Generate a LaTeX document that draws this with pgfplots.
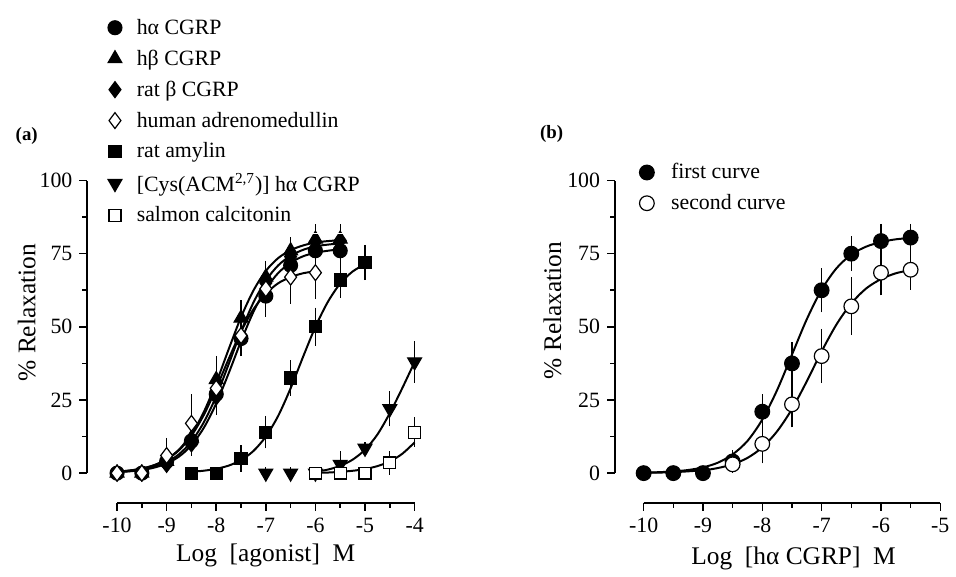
\documentclass[border=0pt]{standalone}
\usepackage{fontspec}
\setmainfont{Liberation Serif}
\usepackage{pgfplots}
\pgfplotsset{compat=1.18}

\tikzset{
  myaxis/.style={draw=black, line width=1pt},
  mycurve/.style={black, line width=1pt, smooth},
  mypts/.style={black, line width=0.6pt},
}
\newcommand{\ls}{\rule[-2.8pt]{0pt}{10.8pt}}

\begin{document}
\begin{tikzpicture}

% (a) agonists
\begin{axis}[scale only axis, width=165pt, height=162.5pt,
  xmin=-10.6, xmax=-4, ymin=-10.17, ymax=100,
  axis x line*=bottom, axis y line*=left, clip=false,
  axis line style={draw=none},
  tick align=outside, major tick length=4pt, minor tick length=2.5pt,
  tick style={black, line width=0.8pt},
  xtick={-10,-9,-8,-7,-6,-5,-4}, xticklabels={-10,-9,-8,-7,-6,-5,-4},
  minor xtick={-9.5,-8.5,-7.5,-6.5,-5.5,-4.5},
  ytick={0,25,50,75,100}, yticklabels={0,25,50,75,100},
  minor ytick={12.5,37.5,62.5,87.5},
  tick label style={font=\fontsize{11}{13}\selectfont},
  xlabel={Log\ \ [agonist]\ \ M}, ylabel={\% Relaxation},
  xlabel style={font=\fontsize{12.8}{15}\selectfont, at={(axis description cs:0.545,-0.163)}, anchor=center},
  ylabel style={font=\fontsize{12.8}{15}\selectfont, at={(axis description cs:-0.185,0.59)}, anchor=center},
  legend style={draw=white, fill=none, at={(axis description cs:0.044,1.529)}, anchor=north west,
    font=\fontsize{11}{13}\selectfont, column sep=5.5pt, row sep=2.1pt},
  legend cell align=left]
\draw[myaxis] (axis cs:-10.6,0) -- (axis cs:-10.6,100);
\draw[myaxis] (axis cs:-10,-10.17) -- (axis cs:-4,-10.17);
\addplot[draw=black, line width=1pt, forget plot] coordinates {(-10.6,0) (-10.6,100)};
\addplot[draw=black, line width=1pt, forget plot] coordinates {(-10,-10.17) (-4,-10.17)};
% fitted curves
\addplot[mycurve, forget plot] coordinates {(-10,0.50) (-9.75,0.89) (-9.5,1.57) (-9.25,2.74) (-9,4.75) (-8.75,8.07) (-8.5,13.3) (-8.25,20.9) (-8,30.9) (-7.75,42.3) (-7.5,53.3) (-7.25,62.4) (-7,69.1) (-6.75,73.5) (-6.5,76.2) (-6.25,77.8) (-6,78.8) (-5.75,79.3) (-5.5,79.6)};
\addplot[mycurve, forget plot] coordinates {(-10,0.34) (-9.75,0.61) (-9.5,1.07) (-9.25,1.89) (-9,3.29) (-8.75,5.66) (-8.5,9.53) (-8.25,15.5) (-8,23.8) (-7.75,34.1) (-7.5,45.1) (-7.25,55.1) (-7,62.9) (-6.75,68.4) (-6.5,71.9) (-6.25,74.1) (-6,75.3) (-5.75,76.0) (-5.5,76.5)};
\addplot[mycurve, forget plot] coordinates {(-10,0.39) (-9.75,0.70) (-9.5,1.23) (-9.25,2.16) (-9,3.76) (-8.75,6.47) (-8.5,10.8) (-8.25,17.4) (-8,26.3) (-7.75,37.2) (-7.5,48.4) (-7.25,58.3) (-7,65.8) (-6.75,71.0) (-6.5,74.3) (-6.25,76.3) (-6,77.5) (-5.75,78.1) (-5.5,78.5)};
\addplot[mycurve, forget plot] coordinates {(-10,0.49) (-9.75,0.87) (-9.5,1.53) (-9.25,2.68) (-9,4.63) (-8.75,7.83) (-8.5,12.8) (-8.25,19.9) (-8,29.0) (-7.75,39.0) (-7.5,48.4) (-7.25,56.0) (-7,61.3) (-6.75,64.9) (-6.5,67.0) (-6.25,68.3) (-6,69.0)};
\addplot[mycurve, forget plot] coordinates {(-8.5,0.47) (-8.25,0.83) (-8,1.47) (-7.75,2.57) (-7.5,4.45) (-7.25,7.57) (-7,12.5) (-6.75,19.6) (-6.5,29.0) (-6.25,39.7) (-6,50.0) (-5.75,58.5) (-5.5,64.8) (-5.25,68.9) (-5,71.4)};
\addplot[mycurve, forget plot] coordinates {(-6,0.5) (-5.75,1.2) (-5.5,2.5) (-5.25,4.6) (-5,8) (-4.75,13.2) (-4.5,20.5) (-4.25,29) (-4,38)};
\addplot[mycurve, forget plot] coordinates {(-6,0.1) (-5.75,0.2) (-5.5,0.45) (-5.25,0.8) (-5,1.4) (-4.75,2.4) (-4.5,4) (-4.25,6.6) (-4,10.5)};
% data points with SEM
\addplot[mypts, only marks, mark=*, mark size=3.5pt,
  error bars/.cd, y dir=both, y explicit, error bar style={line width=0.6pt}, error mark options={line width=0.6pt, mark size=3pt}]
  table[x=x, y=y, y error=e, row sep=\\] {
x y e\\ -10 0 0\\ -9.5 0 0\\ -9 4 1.5\\ -8.5 11 2\\ -8 27 4\\ -7.5 46 4\\ -7 60.5 5\\ -6.5 71 3\\ -6 76 3\\ -5.5 76 2.5\\};
\addlegendentry{\ls hα CGRP}
\addplot[mypts, only marks, mark=triangle*, mark size=4pt,
  error bars/.cd, y dir=both, y explicit, error bar style={line width=0.6pt}, error mark options={line width=0.6pt, mark size=3pt}]
  table[x=x, y=y, y error=e, row sep=\\] {
x y e\\ -10 0 0\\ -9.5 0 0\\ -9 4 1.5\\ -8.5 12 2.5\\ -8 32 6\\ -7.5 53 4\\ -7 67 3.5\\ -6.5 76 2.5\\ -6 80 3\\ -5.5 80 3\\};
\addlegendentry{\ls hβ CGRP}
\addplot[mypts, only marks, mark=diamond*, mark size=4pt,
  error bars/.cd, y dir=both, y explicit, error bar style={line width=0.6pt}, error mark options={line width=0.6pt, mark size=3pt}]
  table[x=x, y=y, y error=e, row sep=\\] {
x y e\\ -10 0 0\\ -9.5 0 0\\ -9 3 1\\ -8.5 10 2\\ -8 26 4\\ -7.5 46 4\\ -7 65 4\\ -6.5 74 3\\ -6 79 3\\ -5.5 79.5 3\\};
\addlegendentry{\ls rat β CGRP}
\addplot[mypts, only marks, mark=diamond*, mark size=4pt, mark options={fill=white},
  error bars/.cd, y dir=both, y explicit, error bar style={line width=0.6pt}, error mark options={line width=0.6pt, mark size=3pt}]
  table[x=x, y=y, y error=e, row sep=\\] {
x y e\\ -10 0 0\\ -9.5 0 0\\ -9 6 4\\ -8.5 17 8\\ -8 29 4\\ -7.5 47 4\\ -7 63 4\\ -6.5 67 7\\ -6 68.5 7\\};
\addlegendentry{\ls human adrenomedullin}
\addplot[mypts, only marks, mark=square*, mark size=3pt,
  error bars/.cd, y dir=both, y explicit, error bar style={line width=0.6pt}, error mark options={line width=0.6pt, mark size=3pt}]
  table[x=x, y=y, y error=e, row sep=\\] {
x y e\\ -8.5 0 0\\ -8 0 0\\ -7.5 5 2.5\\ -7 14 3.5\\ -6.5 32.5 4\\ -6 50 4.5\\ -5.5 66 4\\ -5 72 4\\};
\addlegendentry{\ls rat amylin}
\addplot[mypts, only marks, mark=triangle*, mark size=4pt, mark options={rotate=180},
  error bars/.cd, y dir=both, y explicit, error bar style={line width=0.6pt}, error mark options={line width=0.6pt, mark size=3pt}]
  table[x=x, y=y, y error=e, row sep=\\] {
x y e\\ -7 0 0\\ -6.5 0 0\\ -6 0 0\\ -5.5 3 2.5\\ -5 8.5 0\\ -4.5 22 4\\ -4 38 5\\};
\addlegendentry{\ls [Cys(ACM\textsuperscript{2,7})] hα CGRP}
\addplot[mypts, only marks, mark=square*, mark size=3pt, mark options={fill=white},
  error bars/.cd, y dir=both, y explicit, error bar style={line width=0.6pt}, error mark options={line width=0.6pt, mark size=3pt}]
  table[x=x, y=y, y error=e, row sep=\\] {
x y e\\ -6 0 0\\ -5.5 0 0\\ -5 0 0\\ -4.5 3.5 2\\ -4 14 3\\};
\addlegendentry{\ls salmon calcitonin}
\node[font=\bfseries\fontsize{9.5}{11}\selectfont] at (axis description cs:-0.185,1.138) {(a)};
\end{axis}

% (b) first and second curve
\begin{axis}[at={(266pt,0pt)}, anchor=south west,
  scale only axis, width=164pt, height=162.5pt,
  xmin=-10.483, xmax=-5, ymin=-10.17, ymax=100,
  axis x line*=bottom, axis y line*=left, clip=false,
  axis line style={draw=none},
  tick align=outside, major tick length=4pt, minor tick length=2.5pt,
  tick style={black, line width=0.8pt},
  xtick={-10,-9,-8,-7,-6,-5}, xticklabels={-10,-9,-8,-7,-6,-5},
  minor xtick={-9.5,-8.5,-7.5,-6.5,-5.5},
  ytick={0,25,50,75,100}, yticklabels={0,25,50,75,100},
  minor ytick={12.5,37.5,62.5,87.5},
  tick label style={font=\fontsize{11}{13}\selectfont},
  xlabel={Log\ \ [hα CGRP]\ \ M}, ylabel={\% Relaxation},
  xlabel style={font=\fontsize{12.8}{15}\selectfont, at={(axis description cs:0.549,-0.172)}, anchor=center},
  ylabel style={font=\fontsize{12.8}{15}\selectfont, at={(axis description cs:-0.192,0.597)}, anchor=center},
  legend style={draw=white, fill=none, at={(axis description cs:0.056,1.080)}, anchor=north west,
    font=\fontsize{11}{13}\selectfont, column sep=6.5pt, row sep=2pt},
  legend cell align=left]
\draw[myaxis] (axis cs:-10.483,0) -- (axis cs:-10.483,100);
\draw[myaxis] (axis cs:-10,-10.17) -- (axis cs:-5,-10.17);
\addplot[draw=black, line width=1pt, forget plot] coordinates {(-10.483,0) (-10.483,100)};
\addplot[draw=black, line width=1pt, forget plot] coordinates {(-10,-10.17) (-5,-10.17)};
\addplot[mycurve, forget plot] coordinates {(-10,0.17) (-9.75,0.32) (-9.5,0.58) (-9.25,1.07) (-9,1.96) (-8.75,3.56) (-8.5,6.4) (-8.25,11.0) (-8,18.3) (-7.75,28.4) (-7.5,40.5) (-7.25,52.6) (-7,62.7) (-6.75,70.0) (-6.5,74.7) (-6.25,77.4) (-6,79.0) (-5.75,79.9) (-5.5,80.4)};
\addplot[mycurve, forget plot] coordinates {(-10,0.1) (-9.5,0.32) (-9,0.99) (-8.75,1.74) (-8.5,3.03) (-8.25,5.2) (-8,8.8) (-7.75,14.3) (-7.5,21.9) (-7.25,31.4) (-7,41.6) (-6.75,50.8) (-6.5,58.0) (-6.25,63.1) (-6,66.3) (-5.75,68.3) (-5.5,69.4)};
\addplot[mypts, only marks, mark=*, mark size=3.7pt,
  error bars/.cd, y dir=both, y explicit, error bar style={line width=0.6pt}, error mark options={line width=0.6pt, mark size=3.5pt}]
  table[x=x, y=y, y error=e, row sep=\\] {
x y e\\ -10 0 0\\ -9.5 0 0\\ -9 0 0\\ -8.5 4 1.5\\ -8 21 3.5\\ -7.5 37.5 4.8\\ -7 62.5 5.2\\ -6.5 75 3.6\\ -6 79.3 3.5\\ -5.5 80.5 2.3\\};
\addlegendentry{\ls first curve}
\addplot[mypts, only marks, mark=*, mark size=3.7pt, mark options={fill=white},
  error bars/.cd, y dir=both, y explicit, error bar style={line width=0.6pt}, error mark options={line width=0.6pt, mark size=3.5pt}]
  table[x=x, y=y, y error=e, row sep=\\] {
x y e\\ -8.5 3 0.5\\ -8 10 4.3\\ -7.5 23.5 5.5\\ -7 40 6.9\\ -6.5 57 7.5\\ -6 68.5 5.4\\ -5.5 69.5 4.5\\};
\addlegendentry{\ls second curve}
\node[font=\bfseries\fontsize{9.5}{11}\selectfont] at (axis description cs:-0.195,1.145) {(b)};
\end{axis}
\path (-44pt,-36.5pt) rectangle (434pt,253.5pt);
\end{tikzpicture}
\end{document}
